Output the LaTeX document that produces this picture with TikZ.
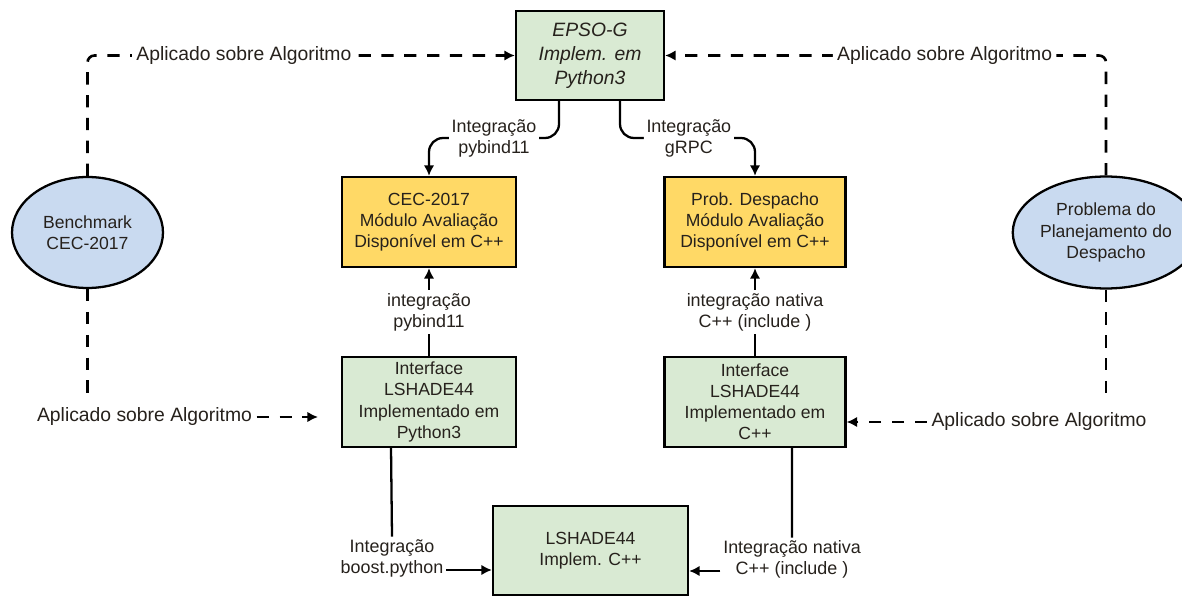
\documentclass[tikz,border=0pt]{standalone}
\usepackage{fontspec}
\setmainfont{Liberation Sans}
\usepackage{tikz}
\usetikzlibrary{shapes,arrows.meta}
\definecolor{implgreen}{RGB}{217,234,211}
\definecolor{evalyellow}{RGB}{255,217,102}
\definecolor{probblue}{RGB}{201,218,240}
\definecolor{inkdark}{RGB}{38,33,28}
\tikzstyle{block} = [rectangle, draw=black, line width=1.3pt, fill=implgreen, text=inkdark, align=center, inner sep=0pt, font=\fontsize{10}{12}\selectfont]
\tikzstyle{evalblock} = [block, fill=evalyellow]
\tikzstyle{cloud} = [ellipse, draw=black, line width=1.3pt, fill=probblue, text=inkdark, align=center, inner sep=0pt, font=\fontsize{10}{12}\selectfont]
\tikzstyle{line} = [draw, line width=1.3pt, -{Latex[length=6pt,width=6pt]}]
\tikzstyle{dline} = [line, line width=1.5pt, dash pattern=on 7pt off 6pt]
\tikzstyle{lbl} = [fill=white, text=inkdark, align=center, inner sep=1.5pt, font=\fontsize{10.2}{12}\selectfont]
\tikzstyle{appl} = [lbl, inner sep=2.5pt, font=\fontsize{11}{13}\selectfont]

\begin{document}
\begin{tikzpicture}[x=0.02cm, y=-0.02cm]
  \useasboundingbox (0,0) rectangle (1182,597);

  \node [block, minimum width=2.96cm, minimum height=1.78cm, font=\fontsize{11}{13.6}\selectfont\itshape] (epso) at (590,55.5) {EPSO-G\\Implem. em\\Python3};
  \node [evalblock, minimum width=3.48cm, minimum height=1.8cm] (cec) at (429,222) {CEC-2017\\Módulo Avaliação\\Disponível em C++};
  \node [evalblock, minimum width=3.62cm, minimum height=1.8cm] (prob) at (755,222) {Prob. Despacho\\Módulo Avaliação\\Disponível em C++};
  \node [cloud, minimum width=3.02cm, minimum height=2.22cm] (bench) at (87.5,232.5) {Benchmark\\CEC-2017};
  \node [cloud, minimum width=2.94cm, minimum height=2.24cm] (plan) at (1106,232.5) {Problema do\\Planejamento do\\Despacho};
  \node [block, minimum width=3.48cm, minimum height=1.8cm] (ipy) at (429,402) {Interface\\LSHADE44\\Implementado em\\Python3};
  \node [block, minimum width=3.62cm, minimum height=1.8cm] (icpp) at (755,402) {Interface\\LSHADE44\\Implementado em\\C++};
  \node [block, minimum width=3.9cm, minimum height=1.78cm] (lsh) at (590.5,550.5) {LSHADE44\\Implem. C++};

  % labels of the lower connectors
  \node [appl] (applb) at (144.5,417) {Aplicado sobre Algoritmo};
  \node [appl] (applr) at (1039,422) {Aplicado sobre Algoritmo};
  \node [lbl] (boost) at (392,558.5) {Integração\\boost.python};
  \node [lbl] (nativa) at (792,559.5) {Integração nativa\\C++ (include )};

  \coordinate (benchend) at (87.5,397);
  \coordinate (planend) at (1106,397);
  \coordinate (ipyin) at (318,417);
  \coordinate (toprow) at (0,138);
  \coordinate (boostrow) at (0,570);
  \coordinate (nativarow) at (0,571);

  % dashed: benchmarks applied on the algorithms
  \path [dline, rounded corners=4pt] (bench.north) |- node[appl, pos=0.683] {Aplicado sobre Algoritmo} (epso.west);
  \path [dline, rounded corners=4pt] (plan.north) |- node[appl, pos=0.683] {Aplicado sobre Algoritmo} (epso.east);
  \path [dline, -] (bench.south) -- (benchend);
  \path [dline] (applb.east) -- (ipyin);
  \path [dline, -] (plan.south) -- (planend);
  \path [dline] (applr.west) -- (icpp.east |- applr.west);

  % integrations
  \path [line, rounded corners=8pt] ([xshift=-0.62cm]epso.south) |- node[lbl, pos=0.75] {Integração\\pybind11} (cec.north |- toprow) -- (cec.north);
  \path [line, rounded corners=8pt] ([xshift=0.6cm]epso.south) |- node[lbl, pos=0.755] {Integração\\gRPC} (prob.north |- toprow) -- (prob.north);
  \path [line] (ipy.north) -- node[lbl] {integração\\pybind11} (cec.south);
  \path [line] (icpp.north) -- node[lbl] {integração nativa\\C++ (include )} (prob.south);
  \path [line, -] ([xshift=-0.76cm]ipy.south) -- (boost.north);
  \path [line] (boost.east |- boostrow) -- (lsh.west |- boostrow);
  \path [line, -] ([xshift=0.74cm]icpp.south) -- (nativa.north);
  \path [line] (nativa.west |- nativarow) -- (lsh.east |- nativarow);
\end{tikzpicture}
\end{document}
